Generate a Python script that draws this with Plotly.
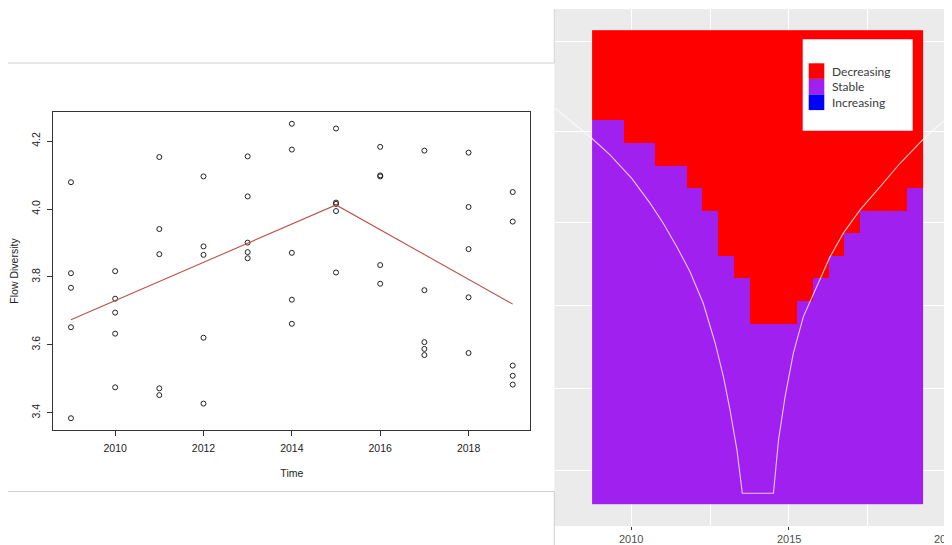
"""Flow diversity over time (left) next to the trend-classification tile map (right)."""

import plotly.graph_objects as go

# the page body keeps its default 8px margin, so the figure is laid out
# in page pixels shifted by that margin
OFF = 8
W, H = 952 - OFF, 545 - OFF

# ---- left panel: flow diversity samples per year + segmented trend ----
flow_years = [2009, 2010, 2011, 2012, 2013, 2014, 2015, 2016, 2017, 2018, 2019]
flow_values = [
    [4.079, 3.811, 3.768, 3.652, 3.384],
    [3.817, 3.736, 3.695, 3.633, 3.475],
    [4.153, 3.941, 3.867, 3.472, 3.452],
    [4.096, 3.890, 3.865, 3.621, 3.427],
    [4.155, 4.037, 3.901, 3.873, 3.855],
    [4.251, 4.175, 3.871, 3.733, 3.662],
    [4.237, 4.019, 4.015, 3.994, 3.813],
    [4.183, 4.099, 4.096, 3.835, 3.780],
    [4.172, 3.761, 3.608, 3.588, 3.570],
    [4.166, 4.006, 3.882, 3.740, 3.576],
    [4.050, 3.963, 3.539, 3.509, 3.483],
]
trend_years = [2009, 2015, 2019]
trend_values = [3.674, 4.012, 3.720]

# ---- right panel: tiles (half-year columns), red rows counted from the top ----
tile_years = [2009 + 0.5 * i for i in range(21)]
n_rows = 21
decreasing_rows = [4, 4, 5, 5, 6, 6, 7, 8, 10, 11, 13, 13, 13, 12, 11, 10, 9, 8, 8, 8, 7]

# white cone line over the tiles
cone_years = [2007.57, 2008.74, 2009.32, 2010.01, 2010.59, 2011.01, 2011.44, 2011.86,
              2012.28, 2012.66, 2012.92, 2013.13, 2013.35, 2013.52, 2014.51, 2014.67,
              2014.88, 2015.14, 2015.46, 2015.89, 2016.31, 2016.73, 2017.26, 2017.90,
              2018.53, 2019.24, 2019.70, 2020.18]
cone_rows = [17.54, 16.21, 15.47, 14.43, 13.33, 12.44, 11.40, 10.29, 8.89, 7.12, 5.64,
             4.16, 2.39, 0.47, 0.47, 2.83, 4.75, 6.67, 8.30, 9.63, 10.96, 12.00, 13.03,
             14.06, 15.10, 16.13, 16.72, 17.24]

grid_rows = [1.47, 5.12, 8.78, 12.47, 16.49, 20.52]
right_ticks = [2010, 2015, 2020]

legend_labels = ["Decreasing", "Stable", "Increasing"]
legend_colors = ["#FF0000", "#A020F0", "#0000FF"]


def px(x):
    return (x - OFF) / W


def py(y):
    return 1 - (y - OFF) / H


xs = [yr for yr, vals in zip(flow_years, flow_values) for _ in vals]
ys = [v for vals in flow_values for v in vals]

# R-style 4% padding on the y range
lo, hi = min(ys), max(ys)
pad = (hi - lo) * 0.04

z = [[1 if r >= n_rows - decreasing_rows[c] else 0 for c in range(len(tile_years))]
     for r in range(n_rows)]

data = [
    go.Scatter(
        x=xs, y=ys, mode="markers",
        marker=dict(symbol="circle-open", size=5, color="#222222", line=dict(width=1)),
        xaxis="x", yaxis="y", hoverinfo="skip",
    ),
    go.Scatter(
        x=trend_years, y=trend_values, mode="lines",
        line=dict(color="#b9524a", width=1.1),
        xaxis="x", yaxis="y", hoverinfo="skip",
    ),
    go.Heatmap(
        x=tile_years, y=[r + 0.5 for r in range(n_rows)], z=z,
        zmin=0, zmax=1, showscale=False,
        colorscale=[[0, "#A020F0"], [0.5, "#A020F0"], [0.5, "#FF0000"], [1, "#FF0000"]],
        xaxis="x2", yaxis="y2", hoverinfo="skip",
    ),
    go.Scatter(
        x=cone_years, y=cone_rows, mode="lines",
        line=dict(color="rgba(255,255,255,0.75)", width=1.1),
        xaxis="x2", yaxis="y2", hoverinfo="skip",
    ),
]

tick_font = dict(family="Liberation Sans, Arial", size=10.5, color="#222222")

shapes = [
    # ggplot grey panel
    dict(type="rect", xref="paper", yref="paper", x0=px(554.3), x1=1.0,
         y0=py(526), y1=py(9), fillcolor="#EBEBEB", line_width=0, layer="below"),
    # screenshot frame lines
    dict(type="line", xref="paper", yref="paper", x0=px(8), x1=px(554.3),
         y0=py(63), y1=py(63), line=dict(color="#cfcfcf", width=1)),
    dict(type="line", xref="paper", yref="paper", x0=px(8), x1=px(554.3),
         y0=py(491.5), y1=py(491.5), line=dict(color="#cfcfcf", width=1)),
    dict(type="line", xref="paper", yref="paper", x0=px(554.3), x1=px(554.3),
         y0=py(491.5), y1=0, line=dict(color="#cfcfcf", width=1)),
    dict(type="line", xref="paper", yref="paper", x0=px(554.3), x1=px(554.3),
         y0=py(9), y1=py(63), line=dict(color="#d8d8d8", width=1)),
    # legend box
    dict(type="rect", xref="paper", yref="paper", x0=px(802.7), x1=px(912.7),
         y0=py(130.7), y1=py(39.3), fillcolor="white", line_width=0),
]
annotations = []
for i, (lab, col) in enumerate(zip(legend_labels, legend_colors)):
    top = 63.3 + i * 15.6
    shapes.append(dict(type="rect", xref="paper", yref="paper", x0=px(808.7), x1=px(824.3),
                       y0=py(top + 15.6), y1=py(top), fillcolor=col, line_width=0))
    annotations.append(dict(xref="paper", yref="paper", x=px(830), y=py(top + 7.8),
                            text=lab, showarrow=False, xanchor="left", yanchor="middle",
                            font=dict(family="Lato, Open Sans", size=12, color="#3a3a3a")))

# tick labels of the cropped ggplot axis (the last one runs off the page edge)
for t in right_ticks:
    annotations.append(dict(xref="x2", yref="paper", x=t, y=py(539), text=str(t),
                            showarrow=False, xanchor="center", yanchor="middle",
                            font=dict(family="Liberation Sans, Arial", size=11,
                                      color="#4D4D4D")))

layout = go.Layout(
    width=W, height=H,
    margin=dict(l=0, r=0, t=0, b=0),
    paper_bgcolor="white", plot_bgcolor="rgba(0,0,0,0)",
    showlegend=False,
    font=dict(family="Liberation Sans, Arial", size=11, color="#222222"),
    xaxis=dict(
        domain=[px(53.3), px(530.4)], range=[2008.6, 2019.4],
        tickvals=[2010, 2012, 2014, 2016, 2018], ticks="outside", ticklen=5,
        tickcolor="#333333", showline=True, linecolor="#333333", mirror=True,
        showgrid=False, zeroline=False, tickfont=tick_font, ticklabelstandoff=3,
        title=dict(text="Time", font=dict(size=10.5), standoff=17),
    ),
    yaxis=dict(
        domain=[py(430), py(112)], range=[lo - pad, hi + pad],
        tickvals=[3.4, 3.6, 3.8, 4.0, 4.2], tickformat=".1f", tickangle=-90,
        ticks="outside", ticklen=5, tickcolor="#333333", showline=True,
        linecolor="#333333", mirror=True, showgrid=False, zeroline=False,
        tickfont=tick_font, ticklabelstandoff=3,
        title=dict(text="Flow Diversity", font=dict(size=10.5), standoff=15),
    ),
    xaxis2=dict(
        domain=[px(554.3), 1.0], range=[2007.55, 2020.18], anchor="y2",
        tickvals=right_ticks, ticks="outside", ticklen=3, tickcolor="#333333",
        showticklabels=False,
        showgrid=True, gridcolor="white", gridwidth=1.2, zeroline=False,
        minor=dict(tickvals=[2012.5, 2017.5], showgrid=True, gridcolor="white",
                   gridwidth=1, ticks=""),
    ),
    yaxis2=dict(
        domain=[py(526), py(9)], range=[-0.985, 21.94], anchor="x2",
        tickvals=grid_rows, showticklabels=False, ticks="",
        showgrid=True, gridcolor="white", gridwidth=1.2, zeroline=False,
    ),
    shapes=shapes,
    annotations=annotations,
)

fig = go.Figure(data=data, layout=layout)
fig.write_html("out.html")
